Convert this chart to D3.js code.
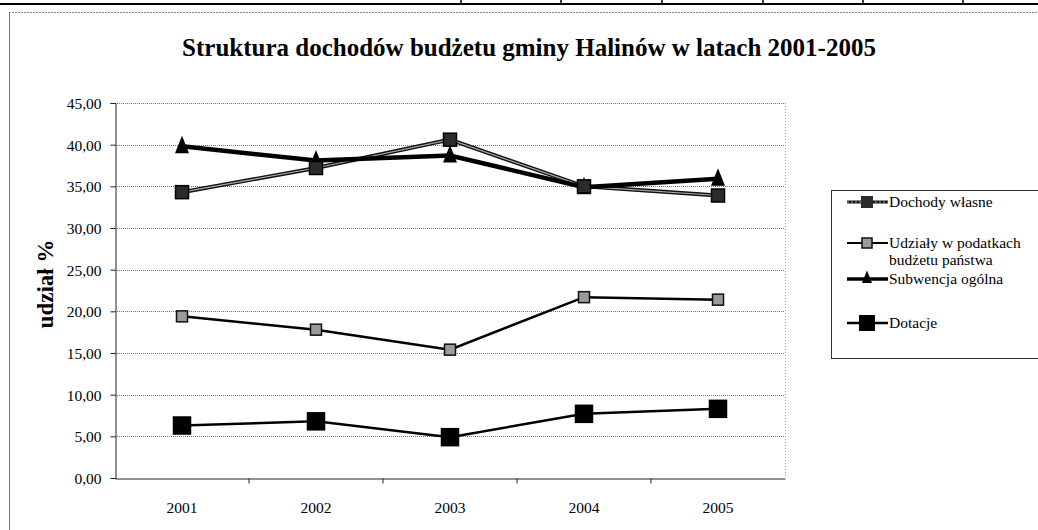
<!DOCTYPE html>
<html>

<head>
    <meta charset="utf-8">
    <title>Struktura dochodów</title>
    <script type="text/javascript" src="https://cdn.jsdelivr.net/npm/d3@7"></script>
    <style>
        body { margin: 0; background: #fff; }
        text { font-family: 'Liberation Serif', 'Times New Roman', serif; fill: #000; }
    </style>
</head>

<body>
    <script type="text/javascript">
    /* dane */
    var years = ['2001', '2002', '2003', '2004', '2005'];
    var dochodyWlasne = [34.3, 37.2, 40.6, 35.0, 33.9];
    var udzialy = [19.4, 17.8, 15.4, 21.7, 21.4];
    var subwencja = [39.8, 38.1, 38.7, 34.9, 35.9];
    var dotacje = [6.3, 6.8, 4.9, 7.7, 8.3];
    var yTicks = [0, 5, 10, 15, 20, 25, 30, 35, 40, 45];
    var seriesNames = ['Dochody własne', 'Udziały  w podatkach', 'Subwencja ogólna', 'Dotacje'];

    var svgWidth = 1038;
    var svgHeight = 530;

    var svg = d3.select('body').append('svg')
        .attr('width', svgWidth)
        .attr('height', svgHeight);

    /* ramka strony (fragment tabeli u góry) */
    svg.append('line')
        .attr('x1', 0).attr('x2', svgWidth)
        .attr('y1', 4).attr('y2', 4)
        .attr('stroke', '#000').attr('stroke-width', 2);
    [461, 561, 662, 763, 863, 963].forEach(function(x) {
        svg.append('line')
            .attr('x1', x).attr('x2', x)
            .attr('y1', 0).attr('y2', 4)
            .attr('stroke', '#000').attr('stroke-width', 1.5);
    });
    svg.append('line')
        .attr('x1', 9).attr('x2', svgWidth)
        .attr('y1', 12.5).attr('y2', 12.5)
        .attr('stroke', '#888').attr('stroke-dasharray', '2,1');
    svg.append('line')
        .attr('x1', 9.5).attr('x2', 9.5)
        .attr('y1', 12).attr('y2', svgHeight)
        .attr('stroke', '#777');

    /* tytuł */
    svg.append('text')
        .attr('x', 529)
        .attr('y', 56)
        .attr('text-anchor', 'middle')
        .attr('font-size', '25px')
        .attr('font-weight', 'bold')
        .text('Struktura dochodów budżetu gminy Halinów w latach 2001-2005');

    /* skale */
    var x = d3.scaleBand().domain(years).range([115, 785]).padding(0);
    var y = d3.scaleLinear().domain([0, 45]).range([478, 103]);

    /* siatka */
    svg.selectAll('.grid')
        .data(yTicks.slice(1))
        .enter()
        .append('line')
        .attr('x1', 115).attr('x2', 785)
        .attr('y1', function(d) { return Math.round(y(d)) + 0.5; })
        .attr('y2', function(d) { return Math.round(y(d)) + 0.5; })
        .attr('stroke', '#777')
        .attr('stroke-dasharray', '1,1');
    svg.append('line')
        .attr('x1', 785.5).attr('x2', 785.5)
        .attr('y1', 103).attr('y2', 478)
        .attr('stroke', '#999')
        .attr('stroke-dasharray', '1,2');

    /* oś Y */
    var yAxis = d3.axisLeft(y)
        .tickValues(yTicks)
        .tickSize(5)
        .tickFormat(function(d) { return d3.format('.2f')(d).replace('.', ','); });
    var gy = svg.append('g')
        .attr('transform', 'translate(115.5,0)')
        .call(yAxis);
    gy.selectAll('text').attr('font-size', '15.5px').attr('x', -14).attr('dy', '0.35em');
    gy.selectAll('line, path').attr('stroke', '#222');

    /* oś X */
    var xAxis = d3.axisBottom(x).tickSize(0).tickPadding(23);
    var gx = svg.append('g')
        .attr('transform', 'translate(0,478.5)')
        .call(xAxis);
    gx.selectAll('text').attr('font-size', '15.5px');
    gx.select('path').attr('stroke', '#222');
    gx.selectAll('.sep')
        .data(years.slice(1))
        .enter()
        .append('line')
        .attr('x1', function(d) { return x(d); })
        .attr('x2', function(d) { return x(d); })
        .attr('y1', 0).attr('y2', 5)
        .attr('stroke', '#222');

    /* etykieta osi Y */
    svg.append('text')
        .attr('transform', 'translate(53,284) rotate(-90)')
        .attr('text-anchor', 'middle')
        .attr('font-size', '23px')
        .attr('font-weight', 'bold')
        .text('udział %');

    /* linie */
    var line = d3.line()
        .x(function(d, i) { return x(years[i]) + x.bandwidth() / 2; })
        .y(function(d) { return y(d); });

    function drawSquares(data, size, fill, stroke) {
        svg.append('g').selectAll('rect')
            .data(data)
            .enter()
            .append('rect')
            .attr('x', function(d, i) { return x(years[i]) + x.bandwidth() / 2 - size / 2; })
            .attr('y', function(d) { return y(d) - size / 2; })
            .attr('width', size)
            .attr('height', size)
            .attr('fill', fill)
            .attr('stroke', stroke)
            .attr('stroke-width', 1.5);
    }

    function triPath(cx, cy, s) {
        return 'M' + cx + ',' + (cy - s * 0.75) + 'L' + (cx + s / 2) + ',' + (cy + s / 2) +
            'L' + (cx - s / 2) + ',' + (cy + s / 2) + 'Z';
    }

    // Dotacje
    svg.append('path').datum(dotacje).attr('d', line)
        .attr('fill', 'none').attr('stroke', '#000').attr('stroke-width', 2.5);
    drawSquares(dotacje, 17, '#000', '#000');

    // Udziały
    svg.append('path').datum(udzialy).attr('d', line)
        .attr('fill', 'none').attr('stroke', '#000').attr('stroke-width', 2.5);
    drawSquares(udzialy, 11, '#9a9a9a', '#111');

    // Dochody własne
    svg.append('path').datum(dochodyWlasne).attr('d', line)
        .attr('fill', 'none').attr('stroke', '#111').attr('stroke-width', 4);
    svg.append('path').datum(dochodyWlasne).attr('d', line)
        .attr('fill', 'none').attr('stroke', '#aaa').attr('stroke-width', 1.2);

    // Subwencja ogólna
    svg.append('path').datum(subwencja).attr('d', line)
        .attr('fill', 'none').attr('stroke', '#000').attr('stroke-width', 4.5);
    svg.append('g').selectAll('path')
        .data(subwencja)
        .enter()
        .append('path')
        .attr('d', function(d, i) { return triPath(x(years[i]) + x.bandwidth() / 2, y(d), 14); })
        .attr('fill', '#000');

    drawSquares(dochodyWlasne, 13, '#2b2b2b', '#000');

    /* legenda */
    var legend = svg.append('g');
    legend.append('rect')
        .attr('x', 831.5).attr('y', 190.5)
        .attr('width', 215).attr('height', 168)
        .attr('fill', '#fff').attr('stroke', '#333');

    var legendY = [202, 243, 279, 323];
    var lx1 = 847, lx2 = 888, lc = 867;

    // Dochody własne
    legend.append('line').attr('x1', lx1).attr('x2', lx2).attr('y1', legendY[0]).attr('y2', legendY[0])
        .attr('stroke', '#111').attr('stroke-width', 3);
    legend.append('line').attr('x1', lx1).attr('x2', lx2).attr('y1', legendY[0]).attr('y2', legendY[0])
        .attr('stroke', '#aaa').attr('stroke-width', 1).attr('stroke-dasharray', '2,2');
    legend.append('rect').attr('x', lc - 6).attr('y', legendY[0] - 6).attr('width', 12).attr('height', 12)
        .attr('fill', '#2b2b2b');
    // Udziały
    legend.append('line').attr('x1', lx1).attr('x2', lx2).attr('y1', legendY[1]).attr('y2', legendY[1])
        .attr('stroke', '#000').attr('stroke-width', 2);
    legend.append('rect').attr('x', lc - 5).attr('y', legendY[1] - 5).attr('width', 10).attr('height', 10)
        .attr('fill', '#9a9a9a').attr('stroke', '#111').attr('stroke-width', 1.5);
    // Subwencja
    legend.append('line').attr('x1', lx1).attr('x2', lx2).attr('y1', legendY[2]).attr('y2', legendY[2])
        .attr('stroke', '#000').attr('stroke-width', 3.5);
    legend.append('path').attr('d', triPath(lc, legendY[2] - 1, 10)).attr('fill', '#000');
    // Dotacje
    legend.append('line').attr('x1', lx1).attr('x2', lx2).attr('y1', legendY[3]).attr('y2', legendY[3])
        .attr('stroke', '#000').attr('stroke-width', 2.5);
    legend.append('rect').attr('x', lc - 8).attr('y', legendY[3] - 8).attr('width', 16).attr('height', 16)
        .attr('fill', '#000');

    legend.selectAll('.lt')
        .data(seriesNames)
        .enter()
        .append('text')
        .attr('x', 889)
        .attr('y', function(d, i) { return legendY[i] + 5; })
        .attr('font-size', '15.5px')
        .text(function(d) { return d; });
    legend.append('text')
        .attr('x', 889)
        .attr('y', legendY[1] + 22)
        .attr('font-size', '15.5px')
        .text('budżetu państwa');
    </script>
</body>

</html>
